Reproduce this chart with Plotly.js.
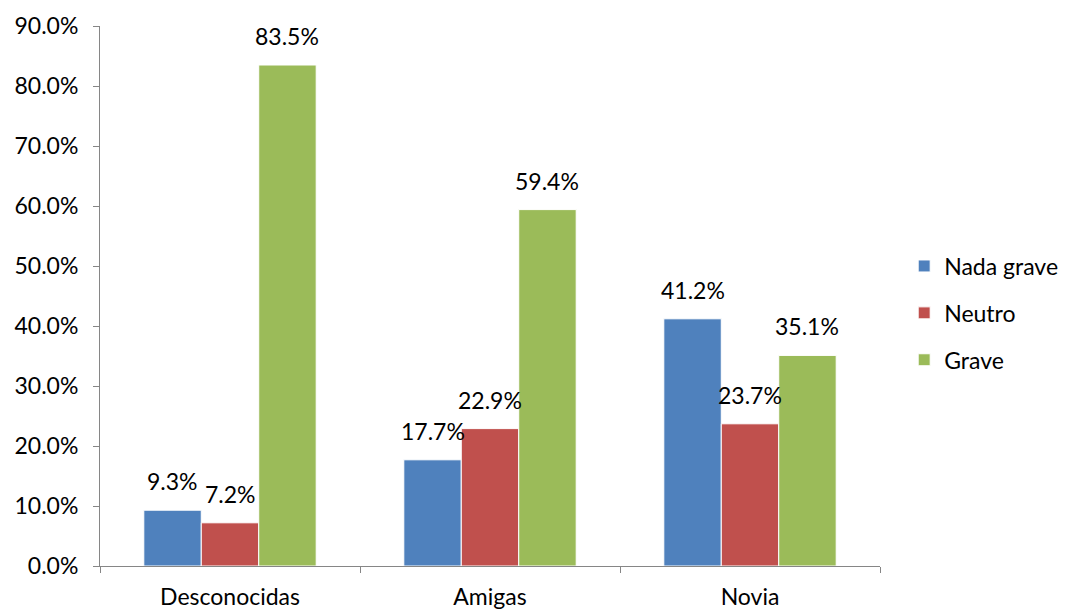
<!DOCTYPE html>
<html><head><meta charset="utf-8">
<script src="https://cdn.plot.ly/plotly-3.0.1.min.js"></script>
<style>body{margin:0}</style></head>
<body><div id="chart" style="width:1068px;height:612px"></div>
<script>
const categories = ["Desconocidas", "Amigas", "Novia"];
const seriesNames = ["Nada grave", "Neutro", "Grave"];
const nadaGrave = [0.093, 0.177, 0.412];
const neutro = [0.072, 0.229, 0.237];
const grave = [0.835, 0.594, 0.351];
const yTickVals = [0, 0.1, 0.2, 0.3, 0.4, 0.5, 0.6, 0.7, 0.8, 0.9];
const colors = ["#4F81BD", "#C0504D", "#9BBB59"];

const values = [nadaGrave, neutro, grave];
const font = "Lato, 'Open Sans', sans-serif";
const fs = 23;
const margin = {l: 100, r: 188, t: 26, b: 46, autoexpand: false};
const bargap = 0.337;
const plotW = 1068 - margin.l - margin.r;
const barPx = plotW / categories.length * (1 - bargap) / values.length;

const traces = values.map((v, i) => ({
  type: "bar", x: categories, y: v, name: seriesNames[i],
  legendgroup: "g" + i,
  marker: {color: colors[i], line: {color: "#ffffff", width: 1}},
  hoverinfo: "skip"
}));

const annotations = [];
values.forEach((v, i) => v.forEach((val, j) => {
  annotations.push({
    x: categories[j], y: val, xref: "x", yref: "y",
    text: (val * 100).toFixed(1) + "%", showarrow: false,
    xshift: (i - 1) * barPx, yshift: 13, yanchor: "bottom", xanchor: "center",
    font: {family: font, size: fs, color: "#000"}
  });
}));

Plotly.newPlot("chart", traces, {
  width: 1068, height: 612, margin: margin,
  paper_bgcolor: "#fff", plot_bgcolor: "#fff",
  barmode: "group", bargap: bargap, bargroupgap: 0,
  font: {family: font, size: fs, color: "#000"},
  xaxis: {type: "category", tickson: "boundaries", ticks: "outside", ticklen: 6,
    tickcolor: "#868686", showline: true, linecolor: "#868686", linewidth: 1,
    showgrid: false, zeroline: false, tickfont: {size: fs}, ticklabelstandoff: 10},
  yaxis: {range: [0, 0.9], tickvals: yTickVals, tickformat: ".1%", ticks: "outside",
    ticklen: 6, tickcolor: "#868686", showline: true, linecolor: "#868686", linewidth: 1,
    showgrid: false, zeroline: false, tickfont: {size: fs}, ticklabelstandoff: 10},
  legend: {x: 1.031, y: 0.4685, xanchor: "left", yanchor: "middle",
    traceorder: "grouped", tracegroupgap: 14, font: {size: fs}, itemwidth: 30},
  annotations: annotations, showlegend: true
}, {staticPlot: true});
</script></body></html>
